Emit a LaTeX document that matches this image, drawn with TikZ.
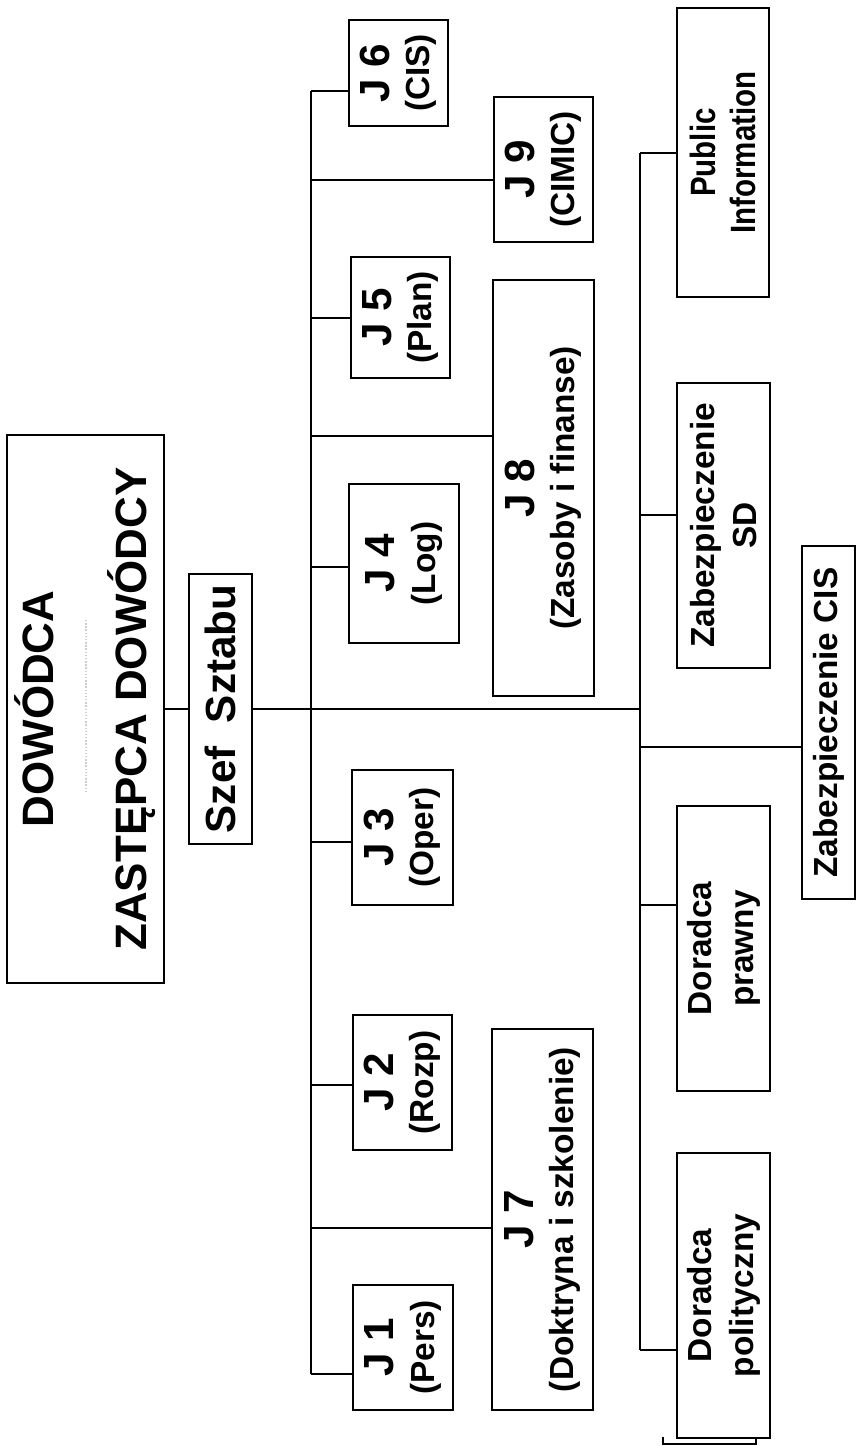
\documentclass[tikz,border=0pt]{standalone}
\usepackage{fontspec}
\setmainfont{Liberation Sans}
\newfontfamily\waska[FakeStretch=0.84]{Liberation Sans}
\usepackage{tikz}
\usetikzlibrary{shapes,arrows,positioning,fit}
\tikzstyle{linia} = [line width=0.9pt]

\begin{document}
\begin{tikzpicture}[x=0.02cm, y=-0.02cm]
    \tikzstyle{blok} = [rectangle, draw, line width=0.9pt, rotate=90, align=center,
        inner sep=0pt, font=\bfseries\fontsize{24}{23}\selectfont]
    \tikzstyle{opis} = [blok, font=\bfseries\fontsize{19}{24}\selectfont]
    \newcommand{\dol}[1]{{\fontsize{19}{23}\selectfont #1}}
    \useasboundingbox (0,0) rectangle (856,1446);

    % Kierownictwo
    \node [blok, minimum width=10.96cm, minimum height=3.14cm, font=\bfseries\fontsize{25}{29}\selectfont] (dowodca) at (85.5,709) {DOWÓDCA\\[24pt]ZASTĘPCA DOWÓDCY};
    \node [blok, minimum width=5.4cm, minimum height=1.26cm] (szef) at (220.5,709) {Szef\ \ Sztabu};

    % Zarzady J
    \node [blok, minimum width=2.12cm, minimum height=1.98cm] (j6) at (398.5,73) {J 6\\\dol{(CIS)}};
    \node [blok, minimum width=2.42cm, minimum height=1.98cm] (j5) at (400.5,317.5) {J 5\\\dol{(Plan)}};
    \node [blok, minimum width=3.18cm, minimum height=2.2cm] (j4) at (404,563.5) {J 4\\\dol{(Log)}};
    \node [blok, minimum width=2.7cm, minimum height=2.02cm] (j3) at (402.5,837.5) {J 3\\\dol{(Oper)}};
    \node [blok, minimum width=2.7cm, minimum height=1.98cm] (j2) at (402.5,1082.5) {J 2\\\dol{(Rozp)}};
    \node [blok, minimum width=2.5cm, minimum height=2.0cm] (j1) at (403,1347.5) {J 1\\\dol{(Pers)}};
    \node [blok, minimum width=2.9cm, minimum height=1.98cm] (j9) at (543.5,169.5) {J 9\\\dol{(CIMIC)}};
    \node [blok, minimum width=8.32cm, minimum height=2.02cm] (j8) at (543.5,488) {J 8\\\dol{(Zasoby i finanse)}};
    \node [blok, minimum width=7.62cm, minimum height=2.02cm] (j7) at (542.5,1219.5) {J 7\\\dol{(Doktryna i szkolenie)}};

    % Komorki specjalne
    \node [opis, minimum width=5.78cm, minimum height=1.84cm, font=\waska\bfseries\fontsize{20}{23}\selectfont] (pi) at (723,152.5) {Public\\Information};
    \node [opis, minimum width=5.7cm, minimum height=1.86cm] (sd) at (723.5,525.5) {Zabezpieczenie\\SD};
    \node [opis, minimum width=7.06cm, minimum height=1.06cm] (cis) at (828.5,722.5) {Zabezpieczenie CIS};
    \node [opis, minimum width=5.7cm, minimum height=1.86cm] (prawny) at (723.5,948.5) {Doradca\\prawny};
    \node [opis, minimum width=5.7cm, minimum height=1.86cm] (polit) at (723.5,1295.5) {Doradca\\polityczny};

    % Linie
    \coordinate (s1g) at (311,91);
    \coordinate (s1d) at (311,1374);
    \coordinate (s2g) at (640,153);
    \coordinate (s2d) at (640,1350);
    \coordinate (s2s) at (640,709);
    \draw [linia] (dowodca) -- (szef);
    \draw [linia] (szef) -- (s2s);
    \draw [linia] (s1g) -- (s1d);
    \draw [linia] (s2g) -- (s2d);
    \foreach \n/\y in {j6/91, j5/318, j4/567, j3/842, j2/1085, j1/1374, j9/180, j8/436, j7/1228} {
        \coordinate (k\n) at (311,\y);
        \draw [linia] (k\n) -- (k\n -| \n.north);
    }
    \foreach \n/\y in {pi/153, sd/515, cis/747, prawny/905, polit/1350} {
        \coordinate (k\n) at (640,\y);
        \draw [linia] (k\n) -- (k\n -| \n.north);
    }
    \draw [gray!40, line width=0.8pt, densely dotted] (86,620) -- (86,793);
    \draw [linia] (663,1437) -- (663,1444) -- (756,1444) -- (756,1438);
\end{tikzpicture}
\end{document}
